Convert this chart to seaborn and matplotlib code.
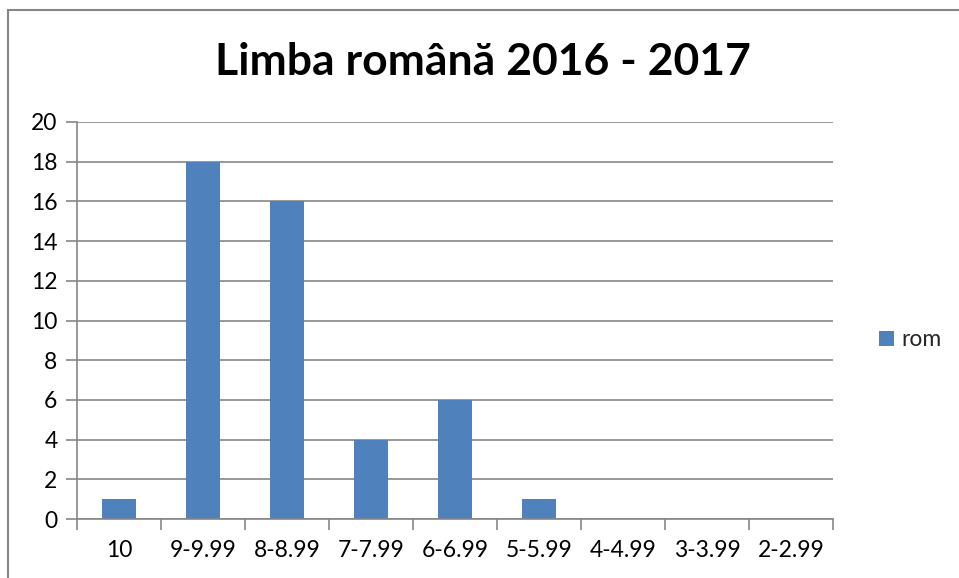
import seaborn as sns
import matplotlib.pyplot as plt
from matplotlib.patches import Rectangle
from matplotlib.ticker import FixedLocator

# chart data
categories = ['10', '9-9.99', '8-8.99', '7-7.99', '6-6.99', '5-5.99', '4-4.99', '3-3.99', '2-2.99']
counts = [1, 18, 16, 4, 6, 1, 0, 0, 0]
series_name = 'rom'
title = 'Limba română 2016 - 2017'

BAR_COLOR = '#4F81BD'
LINE_COLOR = '#868686'

sns.set_theme(style='white')
plt.rcParams['font.family'] = ['Lato', 'DejaVu Sans']

fig = plt.figure(figsize=(9.59, 5.78), dpi=100)
ax = fig.add_axes([77 / 959, 1 - 519 / 578, (833 - 77) / 959, (519 - 122) / 578])

sns.barplot(x=categories, y=counts, color=BAR_COLOR, width=0.4,
            saturation=1, linewidth=0, label=series_name, ax=ax)

ax.set_xlim(-0.5, len(categories) - 0.5)
ax.set_ylim(0, 20)
ax.set_yticks(range(0, 21, 2))
ax.yaxis.grid(True, color=LINE_COLOR, linewidth=1.2)
ax.set_axisbelow(True)

# category boundary tick marks
ax.xaxis.set_minor_locator(FixedLocator([i - 0.5 for i in range(len(categories) + 1)]))
ax.tick_params(axis='x', which='major', length=0, labelsize=16.5, pad=15, colors='black')
ax.tick_params(axis='x', which='minor', length=8, width=1.2, color=LINE_COLOR, direction='out', bottom=True)
ax.tick_params(axis='y', length=8, width=1.2, color=LINE_COLOR, direction='out', labelsize=16.5,
               labelcolor='black', pad=6, left=True)
ax.set_xlabel('')
ax.set_ylabel('')

for s in ['top', 'right']:
    ax.spines[s].set_visible(False)
for s in ['left', 'bottom']:
    ax.spines[s].set_color(LINE_COLOR)
    ax.spines[s].set_linewidth(1.2)

fig.text(483 / 959, 1 - 62 / 578, title, ha='center', va='center',
         fontsize=32, fontweight='bold', color='black')

ax.legend(loc='center left', bbox_to_anchor=(858 / 959, 1 - 340 / 578),
          bbox_transform=fig.transFigure, frameon=False, fontsize=16.5,
          handlelength=0.65, handleheight=0.65, handletextpad=0.35)

# outer chart frame
fig.patches.append(Rectangle((8 / 959, -0.1), 1.2, 1 - 10 / 578 + 0.1,
                             transform=fig.transFigure, fill=False,
                             edgecolor=LINE_COLOR, linewidth=1.5))

fig.savefig('out.png', dpi=100)
